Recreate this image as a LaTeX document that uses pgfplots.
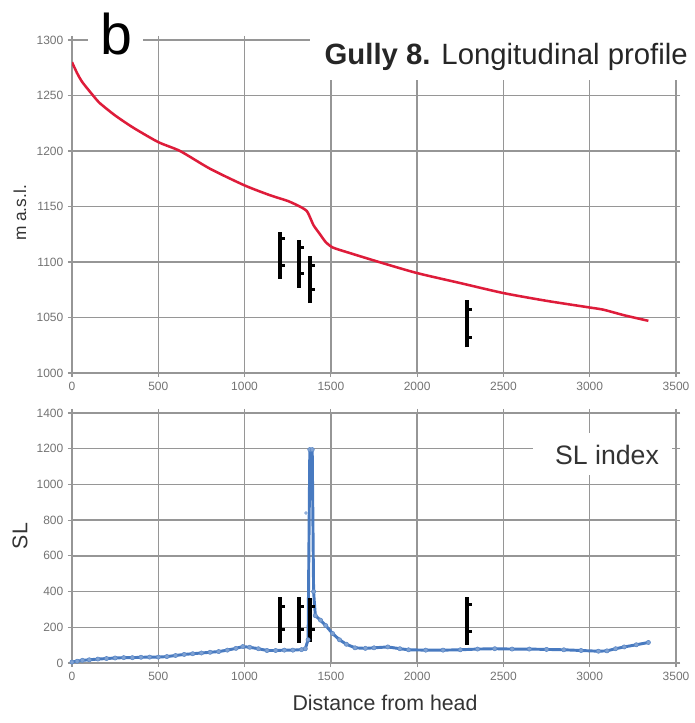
\documentclass[border=0pt]{standalone}
\usepackage{pgfplots}
\pgfplotsset{compat=1.18}
\usepackage{fontspec}
\setmainfont{Liberation Sans}

\definecolor{profred}{RGB}{222,28,58}
\definecolor{slblue}{RGB}{72,122,192}
\definecolor{gridgray}{RGB}{150,150,150}
\definecolor{ticktext}{RGB}{115,115,115}

\pgfplotsset{
  gullyaxis/.style={
    scale only axis, width=453pt,
    xmin=0, xmax=3500, xtick={0,500,...,3500},
    grid=major,
    grid style={gridgray, line width=1pt},
    axis line style={gridgray, line width=1pt},
    tick style={gridgray, line width=0.8pt},
    tick align=outside, major tick length=3pt,
    ticklabel style={font=\fontsize{9}{10}\selectfont, text=ticktext},
    /pgf/number format/assume math mode=true,
    /pgf/number format/1000 sep={},
  },
  knick/.style={black, line width=3.2pt},
  knicktip/.style={black, line width=2.2pt},
}

\begin{document}
\begin{tikzpicture}
\useasboundingbox (0,0) rectangle (520.5pt,542.25pt);

% ---- longitudinal profile ----
\begin{axis}[gullyaxis, at={(54pt,262.5pt)}, anchor=south west,
  height=249.75pt, ymin=1000, ymax=1300, ytick={1000,1050,...,1300}]
\addplot[profred, line width=1.9pt, smooth, tension=0.4] coordinates {
 (0,1280) (30,1270) (60,1262) (122,1250) (162,1243) (250,1232) (355,1221)
 (500,1208) (626,1200) (800,1184) (1000,1169) (1150,1160) (1250,1155)
 (1320,1150) (1360,1146) (1380,1140) (1400,1133) (1437,1125) (1470,1118)
 (1512,1113) (1611,1108) (1800,1099) (2000,1090) (2250,1081) (2500,1072)
 (2750,1065) (3000,1059) (3080,1057) (3200,1052) (3340,1047)};
% knickpoints
\addplot[knick] coordinates {(1205,1085) (1205,1127)};
\addplot[knicktip] coordinates {(1205,1121) (1235,1121)};
\addplot[knicktip] coordinates {(1205,1097) (1235,1097)};
\addplot[knick] coordinates {(1315,1077) (1315,1120)};
\addplot[knicktip] coordinates {(1315,1113) (1345,1113)};
\addplot[knicktip] coordinates {(1315,1090) (1345,1090)};
\addplot[knick] coordinates {(1379,1063) (1379,1105)};
\addplot[knicktip] coordinates {(1379,1097) (1409,1097)};
\addplot[knicktip] coordinates {(1379,1075) (1409,1075)};
\addplot[knick] coordinates {(2288,1023) (2288,1066)};
\addplot[knicktip] coordinates {(2288,1057) (2318,1057)};
\addplot[knicktip] coordinates {(2288,1032) (2318,1032)};
\end{axis}

% ---- SL index ----
\begin{axis}[gullyaxis, at={(54pt,45pt)}, anchor=south west,
  height=187.5pt, ymin=0, ymax=1400, ytick={0,200,...,1400}]
\addplot[slblue, line width=2.2pt, mark=*, mark size=1.6pt,
  mark options={fill=slblue!70, draw=slblue!90, line width=0.4pt}] coordinates {
 (0,5) (30,10) (60,15) (100,18) (150,22) (200,25) (250,28) (300,30)
 (350,30) (400,32) (450,33) (500,33) (550,36) (600,42) (650,48) (700,52)
 (750,56) (800,60) (850,64) (900,72) (950,82) (990,92) (1030,88) (1080,80)
 (1130,70) (1180,70) (1230,72) (1280,72) (1330,75) (1352,80) (1368,130)
 (1378,1195) (1392,1195) (1400,400) (1410,265) (1440,240)
 (1470,210) (1510,165) (1550,130) (1590,105) (1640,85) (1700,82)
 (1750,85) (1830,90) (1900,80) (1950,74) (2050,72) (2150,72) (2250,74)
 (2350,78) (2450,80) (2550,78) (2650,78) (2750,76) (2850,74) (2950,70)
 (3050,66) (3100,68) (3150,80) (3200,90) (3270,102) (3340,115)};
\addplot[only marks, mark=*, mark size=1.2pt, slblue!60] coordinates {(1356,840)};
% knickpoints
\addplot[knick] coordinates {(1205,112) (1205,370)};
\addplot[knicktip] coordinates {(1205,314) (1235,314)};
\addplot[knicktip] coordinates {(1205,185) (1235,185)};
\addplot[knick] coordinates {(1315,112) (1315,370)};
\addplot[knicktip] coordinates {(1315,314) (1345,314)};
\addplot[knicktip] coordinates {(1315,185) (1345,185)};
\addplot[knick] coordinates {(1379,118) (1379,365)};
\addplot[knicktip] coordinates {(1379,314) (1409,314)};
\addplot[knicktip] coordinates {(1379,185) (1409,185)};
\addplot[knick] coordinates {(2288,101) (2288,370)};
\addplot[knicktip] coordinates {(2288,325) (2318,325)};
\addplot[knicktip] coordinates {(2288,174) (2318,174)};
\end{axis}

% panel letter and titles on white patches
\fill[white] (66pt,495.75pt) rectangle (107.25pt,534.75pt);
\node[font=\fontsize{43}{43}\selectfont, inner sep=0pt] at (87pt,516.75pt) {b};
\fill[white] (232.5pt,482.25pt) rectangle (520.5pt,516pt);
\node[font=\fontsize{22}{24}\selectfont, text=black!85, inner sep=0pt, anchor=east]
  at (516pt,499.5pt) {\textbf{Gully 8.} Longitudinal profile};
\fill[white] (399.75pt,186pt) rectangle (504pt,217.5pt);
\node[font=\fontsize{20}{22}\selectfont, text=black!80, inner sep=0pt]
  at (455.25pt,201pt) {SL index};

% axis titles
\node[rotate=90, font=\fontsize{13}{14}\selectfont, text=black!80] at (15pt,382.5pt) {m a.s.l.};
\node[rotate=90, font=\fontsize{16}{18}\selectfont, text=black!80] at (15pt,140.25pt) {SL};
\node[font=\fontsize{16}{18}\selectfont, text=black!80] at (288.75pt,15pt) {Distance from head};
\end{tikzpicture}
\end{document}
